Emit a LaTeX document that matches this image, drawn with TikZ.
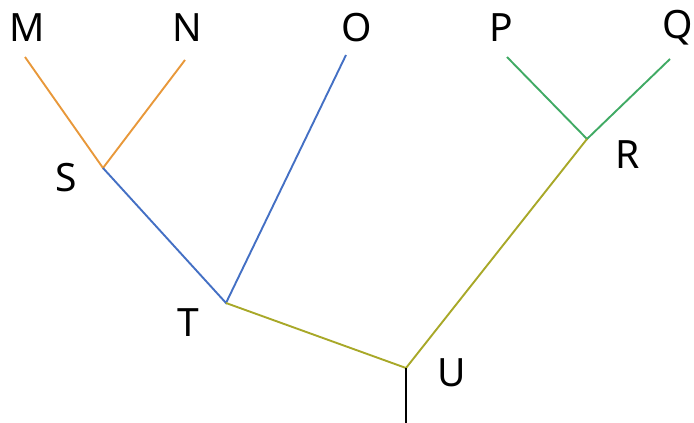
\documentclass[tikz,border=0pt]{standalone}
\usepackage{fontspec}
\setmainfont{Noto Sans}
\definecolor{cOrange}{RGB}{232,152,58}
\definecolor{cBlue}{RGB}{68,112,196}
\definecolor{cOlive}{RGB}{168,168,40}
\definecolor{cGreen}{RGB}{64,170,100}
\begin{document}
\begin{tikzpicture}[x=1pt,y=-1pt,
  lbl/.style={inner sep=0pt,font=\fontsize{39}{44}\selectfont},
  edge/.style={line width=1.9pt}]
\useasboundingbox (0,0) rectangle (694,423);
% labels
\node[lbl] (M) at (27,28) {M};
\node[lbl] (N) at (187,28) {N};
\node[lbl] (O) at (357,28) {O};
\node[lbl] (P) at (501,28) {P};
\node[lbl] (Q) at (678,28) {Q};
\node[lbl] (S) at (66,178) {S};
\node[lbl] (T) at (188,323) {T};
\node[lbl] (R) at (628,155) {R};
\node[lbl] (U) at (452,373) {U};
% leaf ends and junctions
\coordinate (m) at (25,57);
\coordinate (n) at (185,60);
\coordinate (o) at (346,55);
\coordinate (p) at (507,57);
\coordinate (q) at (670,59);
\coordinate (s) at (103,168);
\coordinate (t) at (226,303);
\coordinate (r) at (587,139);
\coordinate (u) at (406,368);
\coordinate (root) at (406,423);
% edges
\draw[edge,cOrange] (m) -- (s) -- (n);
\draw[edge,cBlue] (s) -- (t) -- (o);
\draw[edge,cGreen] (p) -- (r) -- (q);
\draw[edge,cOlive] (t) -- (u) -- (r);
\draw[edge,black] (u) -- (root);
\end{tikzpicture}
\end{document}
